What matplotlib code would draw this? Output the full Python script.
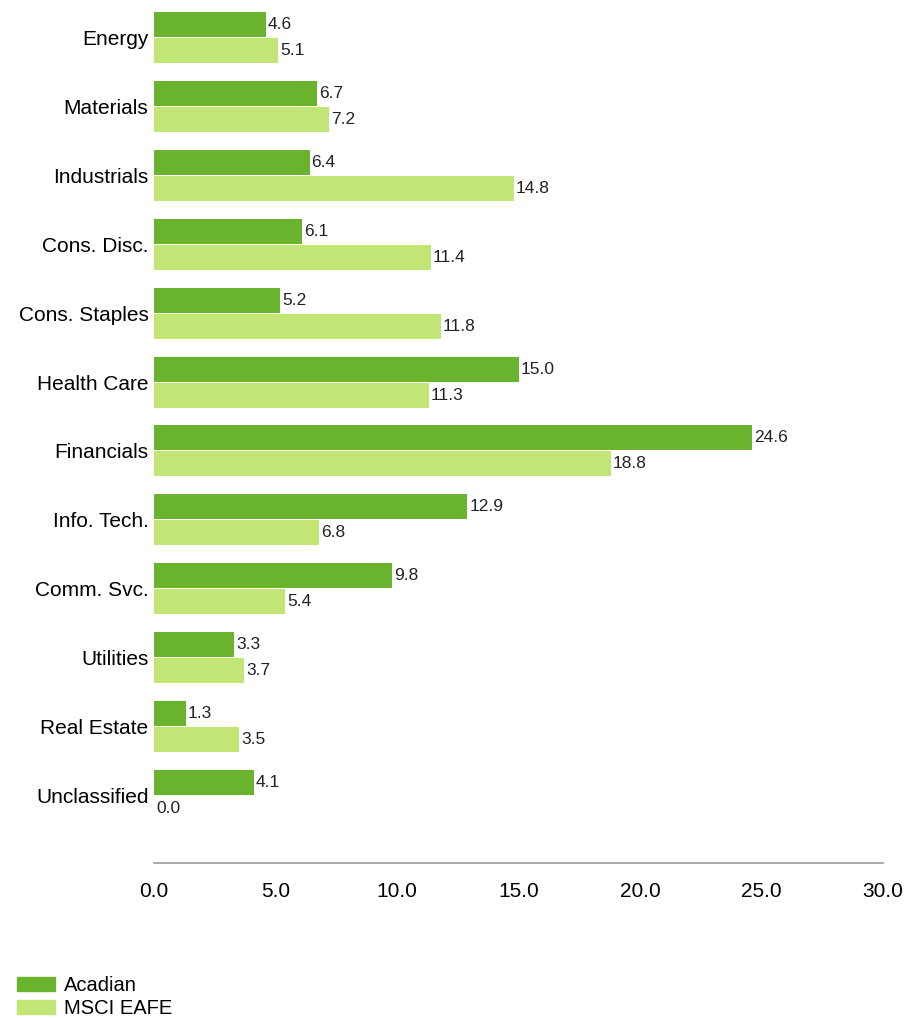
import matplotlib
matplotlib.use('Agg')
import matplotlib.pyplot as plt
import numpy as np
from matplotlib.patches import Patch

plt.rcParams['font.family'] = ['Liberation Sans Narrow', 'Liberation Sans', 'DejaVu Sans']

# sector weights (%)
sectors = ['Energy', 'Materials', 'Industrials', 'Cons. Disc.', 'Cons. Staples',
           'Health Care', 'Financials', 'Info. Tech.', 'Comm. Svc.', 'Utilities',
           'Real Estate', 'Unclassified']
acadian = [4.6, 6.7, 6.4, 6.1, 5.2, 15.0, 24.6, 12.9, 9.8, 3.3, 1.3, 4.1]
msci_eafe = [5.1, 7.2, 14.8, 11.4, 11.8, 11.3, 18.8, 6.8, 5.4, 3.7, 3.5, 0.0]
x_ticks = [0, 5, 10, 15, 20, 25, 30]

dark_green = '#6ab42d'
light_green = '#c2e676'

fig = plt.figure(figsize=(9.07, 10.18), dpi=100)
ax = fig.add_axes([154 / 907, 1 - 863 / 1018, 729 / 907, 863 / 1018])

y = np.arange(len(sectors))
h = 0.363
b1 = ax.barh(y - h / 2 - 0.007, acadian, height=h, color=dark_green, label='Acadian')
b2 = ax.barh(y + h / 2 + 0.007, msci_eafe, height=h, color=light_green, label='MSCI EAFE')

for bars, vals in ((b1, acadian), (b2, msci_eafe)):
    for bar, v in zip(bars, vals):
        ax.annotate(f'{v:.1f}', (v, bar.get_y() + bar.get_height() / 2),
                    xytext=(1.5, 0), textcoords='offset points',
                    ha='left', va='center', fontsize=12.5, color='#222222')

ax.set_xlim(0, 30)
ax.set_ylim(11 + 67.5 / 68.9, -37.5 / 68.9)
ax.set_yticks(y)
ax.set_yticklabels(sectors, fontsize=15)
ax.set_xticks(x_ticks)
ax.set_xticklabels([f'{t:.1f}' for t in x_ticks], fontsize=15)
ax.tick_params(axis='both', length=0)
ax.tick_params(axis='x', pad=14)
ax.tick_params(axis='y', pad=4)

for s in ('top', 'right', 'left'):
    ax.spines[s].set_visible(False)
ax.spines['bottom'].set_color('#999999')
ax.spines['bottom'].set_linewidth(1.2)

handles = [Patch(color=dark_green, label='Acadian'),
           Patch(color=light_green, label='MSCI EAFE')]
fig.legend(handles=handles, loc='lower left', bbox_to_anchor=(17 / 907, 0.0),
           frameon=False, fontsize=14.5, handlelength=1.9, handleheight=0.75,
           labelspacing=0.2, handletextpad=0.45, borderpad=0, borderaxespad=0)

fig.savefig('out.png', dpi=100)
